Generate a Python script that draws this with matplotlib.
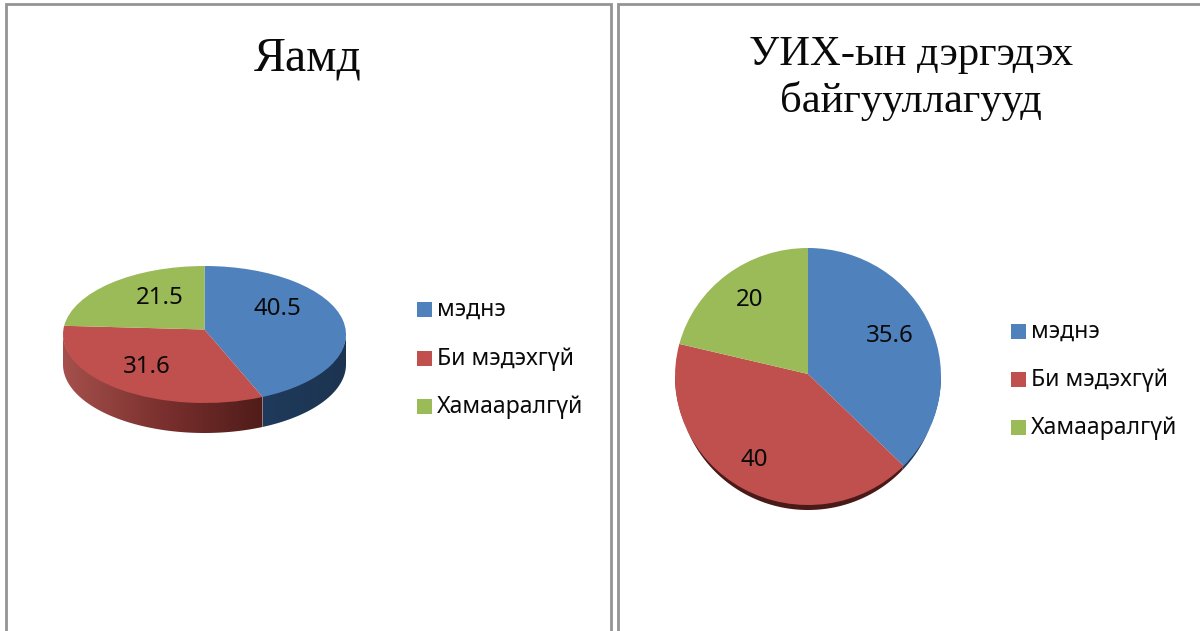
import numpy as np
import matplotlib
matplotlib.use('Agg')
import matplotlib.pyplot as plt
from matplotlib.colors import LinearSegmentedColormap
from matplotlib.patches import Polygon

categories = ['мэднэ', 'Би мэдэхгүй', 'Хамааралгүй']
values_left = [40.5, 31.6, 21.5]
values_right = [35.6, 40, 20]
title_left = 'Яамд'
title_right = 'УИХ-ын дэргэдэх\nбайгууллагууд'

colors = ['#4F81BD', '#C0504D', '#9BBB59']
W, H = 1200, 631

plt.rcParams['font.family'] = ['Noto Sans', 'DejaVu Sans']
fig = plt.figure(figsize=(W / 100, H / 100), dpi=100)

# background axes in pixel coordinates, for the frames and the pie sides
bg = fig.add_axes([0, 0, 1, 1], zorder=0)
bg.axis('off')

frame = '#949494'
bg.plot([6, 6, 611, 611], [H, 4, 4, H], color=frame, lw=2, solid_joinstyle='miter')
bg.plot([W + 5, 618, 618], [4, 4, H], color=frame, lw=2, solid_joinstyle='miter')


def side(values, cx, cy, a, b, depth, cmaps, shrink=1.0):
    # lower rim of the pie, a gradient image clipped to the shape of each slice's rim
    fracs = np.cumsum([0] + list(values)) / sum(values)
    for i in range(len(values)):
        t0, t1 = fracs[i] * 2 * np.pi, fracs[i + 1] * 2 * np.pi
        t0, t1 = max(t0, np.pi / 2), min(t1, 3 * np.pi / 2)
        if t1 <= t0:
            continue
        ts = np.linspace(t0, t1, 200)
        x_top = cx + a * np.sin(ts)
        y_top = cy - b * np.cos(ts)
        x_low = cx + a * shrink * np.sin(ts)
        y_low = cy - b * np.cos(ts) + depth
        poly = np.r_[np.c_[x_top, y_top - 1], np.c_[x_low, y_low][::-1]]
        im = bg.imshow(np.linspace(0, 1, 256)[None, :], cmap=cmaps[i], aspect='auto',
                       extent=[poly[:, 0].min(), poly[:, 0].max(), poly[:, 1].max(), poly[:, 1].min()],
                       interpolation='bilinear')
        im.set_clip_path(Polygon(poly, transform=bg.transData))


def pie_axes(values, cx, cy, a, b, apex_shift):
    ax = fig.add_axes([(cx - a) / W, 1 - (cy + b) / H, 2 * a / W, 2 * b / H], zorder=1)
    wedges, _ = ax.pie(values, colors=colors, startangle=90, counterclock=False,
                       wedgeprops={'linewidth': 0.3, 'edgecolor': 'none'})
    ax.set_aspect('auto')
    ax.set_xlim(-1, 1)
    ax.set_ylim(-1, 1)
    # perspective moves the middle of the pie upward a little
    for w in wedges:
        v = w.get_path().vertices
        v[np.hypot(v[:, 0], v[:, 1]) < 1e-6, 1] += apex_shift / b
    return ax


def put(x, y, s, size, **kw):
    fig.text(x / W, 1 - y / H, s, fontsize=size, color='#0a0a0a', **kw)


blue_side = LinearSegmentedColormap.from_list('b', ['#1F3A5C', '#1C3450'])
red_side = LinearSegmentedColormap.from_list('r', ['#A5504C', '#7A302E', '#501C19'])
dark_red = LinearSegmentedColormap.from_list('r2', ['#4A1A18', '#4A1A18'])
green_side = LinearSegmentedColormap.from_list('g', ['#6d8a3a', '#6d8a3a'])

side(values_left, 204.5, 334.5, 141.5, 68.5, 30, [blue_side, red_side, green_side])
pie_axes(values_left, 204.5, 334.5, 141.5, 68.5, 5)
side(values_right, 808, 376.5, 133, 128.5, 5, [blue_side, dark_red, green_side], shrink=0.98)
pie_axes(values_right, 808, 376.5, 133, 128.5, 2.5)

bg.set_xlim(0, W)
bg.set_ylim(H, 0)

# data labels
label_pos_left = [(277, 309), (147, 367), (160, 298)]
label_pos_right = [(890, 336), (754, 460), (750, 300)]
for vals, spots in [(values_left, label_pos_left), (values_right, label_pos_right)]:
    for v, (x, y) in zip(vals, spots):
        put(x, y, str(v), 17.3, ha='center', va='center')

# titles
serif = ['Liberation Serif', 'DejaVu Serif']
put(308, 58, title_left, 34.5, ha='center', va='center', family=serif)
put(911, 78, title_right, 30.7, ha='center', va='center', family=serif, linespacing=1.21)

# legends
legend_left = [(417, 302), (417, 351), (417, 399)]
legend_right = [(1011, 324), (1011, 372), (1011, 420)]
for spots in (legend_left, legend_right):
    for name, col, (x, y) in zip(categories, colors, spots):
        bg.fill_between([x, x + 15], y, y + 15, color=col, lw=0)
        put(x + 20, y + 8, name, 16.6, ha='left', va='center')

fig.savefig('out.png', dpi=100)
